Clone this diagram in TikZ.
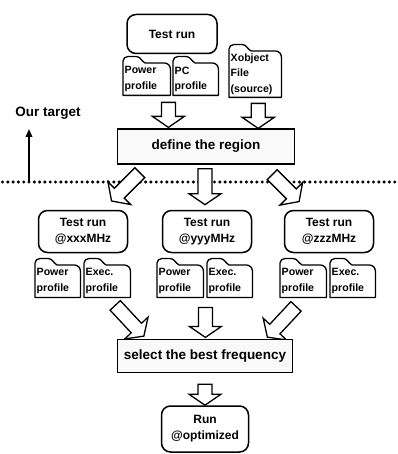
\documentclass[tikz,border=0pt]{standalone}
\usepackage{fontspec}
\setmainfont{Liberation Sans}
\usetikzlibrary{calc,arrows.meta}
\tikzset{
  box/.style={draw,line width=1.5pt,rounded corners=9pt,minimum width=89pt,minimum height=#1,
    align=center,font=\fontsize{12}{16}\selectfont\bfseries,inner sep=1pt},
  box/.default=42pt,
  region/.style={draw,line width=1.4pt,minimum width=177pt,minimum height=#1,inner sep=1pt,
    font=\fontsize{13.5}{15}\selectfont\bfseries,fill=gray!5},
  region/.default=34pt,
  fline/.style={line width=1.3pt,line join=round},
  folder/.style={anchor=north west,inner xsep=1.5pt,inner ysep=0pt,text width=#1,
    minimum height=32pt,align=left,font=\fontsize{10.6}{15.5}\selectfont\bfseries,
    append after command={\pgfextra{\let\fldnode\tikzlastnode
      \draw[fline] (\fldnode.south west) -- ([yshift=2pt]\fldnode.north west)
        to[out=90,in=180] ([shift={(5pt,6.5pt)}]\fldnode.north west)
        -- ([shift={(13pt,6.5pt)}]\fldnode.north west)
        to[out=0,in=150] ([xshift=22pt]\fldnode.north west)
        -- ([xshift=-6pt]\fldnode.north east)
        to[out=0,in=90] ([yshift=-6pt]\fldnode.north east)
        -- (\fldnode.south east) -- cycle;}}},
  arrline/.style={draw,fill=white,line width=1.3pt,line join=miter},
  pics/barrow/.style={code={
    \path[arrline] (0,-7) -- (#1-11,-7) -- (#1-11,-16) -- (#1,0) -- (#1-11,16) -- (#1-11,7) -- (0,7) -- cycle;}},
  dotline/.style={line width=3.4pt,line cap=round,dash pattern=on 0pt off 5.3pt},
  tgtarrow/.style={line width=1.7pt,-{Triangle[length=8pt,width=6.5pt]}}
}
\begin{document}
\begin{tikzpicture}[x=1pt,y=1pt]
\useasboundingbox (0,0) rectangle (397,-454);

% top row
\node[box=39pt,minimum width=90pt] (tr0) at (172,-34) {Test run};
\node[folder=44pt] (f1) at (123,-63) {Power\\profile};
\node[folder=42pt] (f2) at (173,-63) {PC\\profile};
\node[folder=49pt,minimum height=46pt] (f3) at (229,-51) {Xobject\\File\\(source)};

\node[font=\fontsize{13.5}{15}\selectfont\bfseries] (target) at (48,-113) {Our target};

\node[region=35pt] (region) at (206,-146.5) {define the region};

% dotted separator and target arrow
\coordinate (dl) at (2.5,-182);
\coordinate (dr) at (397,-182);
\draw[dotline] (dl) -- (dr);
\coordinate (tgtbase) at (29,-182);
\coordinate (tgttip) at (29,-129);
\draw[tgtarrow] (tgtbase) -- (tgttip);

% arrows into region
\pic[rotate=-90] at ($(f1.south east)+(-2,-7)$) {barrow=25};
\pic[rotate=-90] at ($(f3.south)+(3,-6)$) {barrow=25};

% arrows out of region
\pic[rotate=-135] at ($(region.south west)+(23,-8)$) {barrow=40};
\pic[rotate=-90] at ($(region.south)+(-1,-4)$) {barrow=36};
\pic[rotate=-45] at ($(region.south east)+(-23,-10)$) {barrow=38};

% second row
\node[box] (tr1) at (83,-231.5) {Test run\\@xxxMHz};
\node[box] (tr2) at (207,-231.5) {Test run\\@yyyMHz};
\node[box] (tr3) at (329,-231.5) {Test run\\@zzzMHz};

\node[folder=42pt] (f11) at (35,-265) {Power\\profile};
\node[folder=43pt] (f12) at (84,-265) {Exec.\\profile};
\node[folder=43pt] (f21) at (157,-265) {Power\\profile};
\node[folder=42pt] (f22) at (207,-265) {Exec.\\profile};
\node[folder=43pt] (f31) at (280,-265) {Power\\profile};
\node[folder=42pt] (f32) at (330,-265) {Exec.\\profile};

% arrows into select
\pic[rotate=-47] at ($(f12.south)+(8,-8)$) {barrow=42};
\pic[rotate=-90] at ($(f21.south east)+(2,-10)$) {barrow=30};
\pic[rotate=-133] at ($(f31.south west)+(16,-9)$) {barrow=42};

\node[region=33pt,minimum width=175pt] (select) at (205,-356) {select the best frequency};

\pic[rotate=-90] at ($(select.south)+(0,-11)$) {barrow=21};

\node[box=46pt,minimum width=87pt] (run) at (205,-429) {Run\\@optimized};
\end{tikzpicture}
\end{document}
